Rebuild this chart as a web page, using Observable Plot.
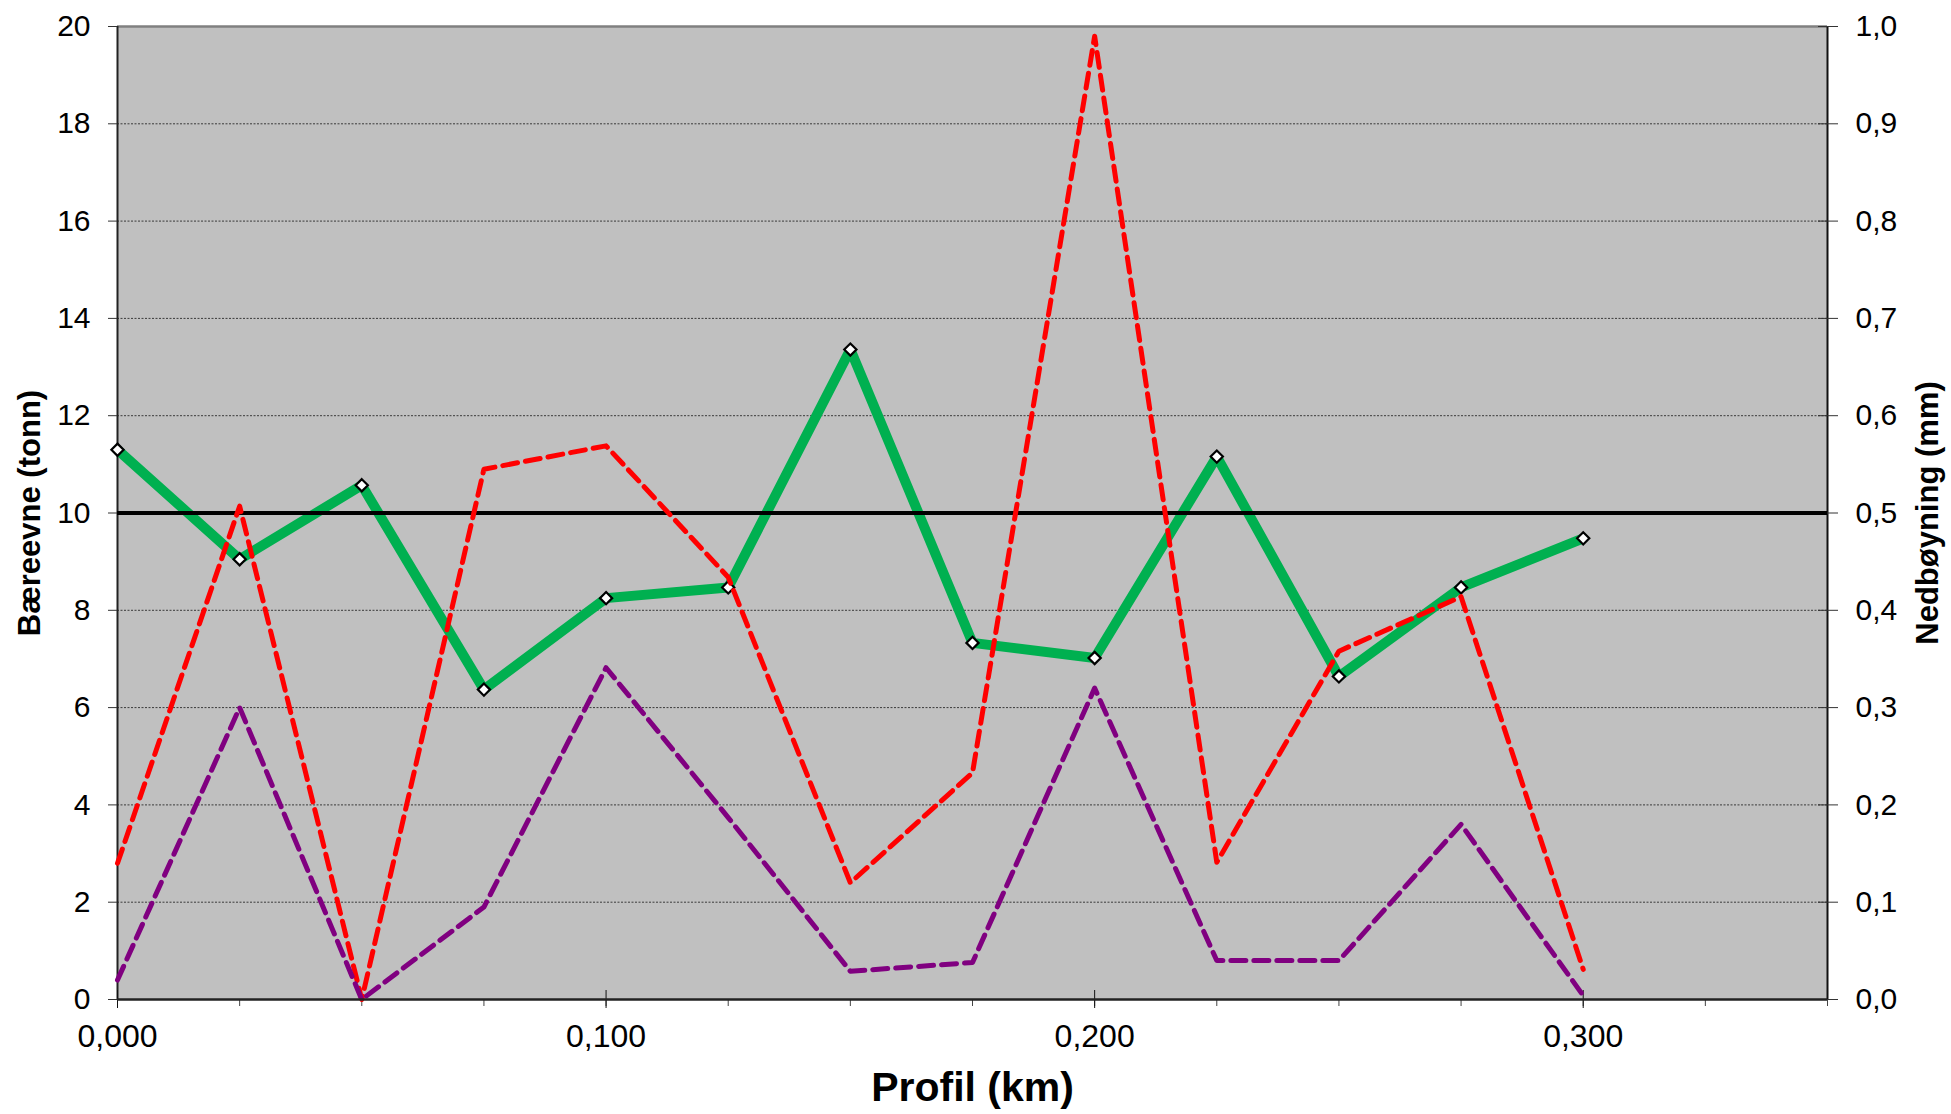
<!DOCTYPE html>
<html>
<head>
<meta charset="utf-8">
<script src="https://cdn.jsdelivr.net/npm/d3@7"></script>
<script src="https://cdn.jsdelivr.net/npm/@observablehq/plot@0.6"></script>
<style>
  html, body { margin: 0; padding: 0; background: #fff; }
  #chart { width: 1951px; height: 1114px; }
  svg { display: block; }
</style>
</head>
<body>
<div id="chart"></div>
<script>
// ---- data ----
const profil = [0.000, 0.025, 0.050, 0.075, 0.100, 0.125, 0.150, 0.175, 0.200, 0.225, 0.250, 0.275, 0.300];
const baereevne = [11.30, 9.05, 10.57, 6.37, 8.25, 8.47, 13.36, 7.33, 7.02, 11.16, 6.64, 8.47, 9.48]; // tonn (left axis)
const nedboyningA = [0.140, 0.507, 0.000, 0.545, 0.569, 0.434, 0.120, 0.233, 0.990, 0.141, 0.358, 0.414, 0.031]; // mm (right axis), red
const nedboyningB = [0.020, 0.300, 0.000, 0.095, 0.341, 0.187, 0.029, 0.038, 0.320, 0.040, 0.040, 0.180, 0.004]; // mm (right axis), purple
const grenseverdi = [10]; // tonn reference line
const xMajorTicks = [0, 0.1, 0.2, 0.3];
const xMinorTicks = [0, 0.025, 0.05, 0.075, 0.1, 0.125, 0.15, 0.175, 0.2, 0.225, 0.25, 0.275, 0.3, 0.325, 0.35];
const yLeftTicks = [0, 2, 4, 6, 8, 10, 12, 14, 16, 18, 20];
const yGridTicks = [2, 4, 6, 8, 10, 12, 14, 16, 18];
const xLabel = "Profil (km)";
const yLeftLabel = "Bæreevne (tonn)";
const yRightLabel = "Nedbøyning (mm)";

// right axis maps 0..1.0 mm onto 0..20 tonn
const ratio = 20 / 1.0;

const green = profil.map((x, i) => ({x, v: baereevne[i]}));
const red = profil.map((x, i) => ({x, v: nedboyningA[i]}));
const purple = profil.map((x, i) => ({x, v: nedboyningB[i]}));

const comma = (s) => s.replace(".", ",");

const chart = Plot.plot({
  width: 1951,
  height: 1114,
  marginTop: 26,
  marginRight: 124,
  marginBottom: 115,
  marginLeft: 117,
  style: {fontFamily: "'Liberation Sans', Arial, sans-serif", background: "#fff", color: "#000"},
  x: {domain: [0, 0.35]},
  y: {domain: [0, 20]},
  marks: [
    Plot.frame({fill: "#C0C0C0", stroke: "none"}),
    Plot.gridY(yGridTicks, {stroke: "#3a3a3a", strokeOpacity: 1, strokeWidth: 1, strokeDasharray: "2,1.5"}),
    // borders
    Plot.ruleY([20], {stroke: "#808080", strokeWidth: 2.5}),
    Plot.ruleX([0], {stroke: "#222", strokeWidth: 2}),
    Plot.ruleX([0.35], {stroke: "#111", strokeWidth: 2}),
    // x axis ticks
    Plot.axisX({ticks: xMinorTicks, tickSize: 7, text: null, label: null, stroke: "#444"}),
    Plot.axisX({ticks: xMajorTicks, tickSize: 18, dy: -9, text: null, label: null, stroke: "#111"}),
    Plot.axisX({ticks: xMajorTicks, tickSize: 0, tickPadding: 25, fontSize: 32, label: null,
      tickFormat: d => comma(d.toFixed(3))}),
    // left y axis
    Plot.axisY({ticks: yLeftTicks, tickSize: 9, tickPadding: 18, fontSize: 30, label: null, stroke: "#333",
      tickFormat: d => String(d)}),
    // right y axis (mm)
    Plot.axisY({anchor: "right", ticks: yLeftTicks, tickSize: 20, dx: -10, text: null, label: null, stroke: "#333"}),
    Plot.axisY({anchor: "right", ticks: yLeftTicks, tickSize: 0, tickPadding: 28, fontSize: 30, label: null,
      tickFormat: d => comma((d / ratio).toFixed(1))}),
    // data
    Plot.line(green, {x: "x", y: "v", stroke: "#00B050", strokeWidth: 10, strokeLinejoin: "miter"}),
    Plot.dot(green, {x: "x", y: "v", symbol: "diamond2", r: 5.5, fill: "#fff", stroke: "#000", strokeWidth: 2.2}),
    Plot.ruleY(grenseverdi, {stroke: "#000", strokeWidth: 4}),
    Plot.line(red, {x: "x", y: d => d.v * ratio, stroke: "#FF0000", strokeWidth: 5, strokeDasharray: "15,8", strokeLinejoin: "round"}),
    Plot.line(purple, {x: "x", y: d => d.v * ratio, stroke: "#800080", strokeWidth: 5, strokeDasharray: "15,8", strokeLinejoin: "round"}),
    Plot.ruleY([0], {stroke: "#222", strokeWidth: 2.5}),
    // axis titles
    Plot.text([xLabel], {frameAnchor: "bottom", textAnchor: "middle", dy: 101, fontSize: 41, fontWeight: "bold", fill: "#000"}),
    Plot.text([yLeftLabel], {frameAnchor: "left", textAnchor: "middle", rotate: -90, dx: -87, fontSize: 31, fontWeight: "bold", fill: "#000"}),
    Plot.text([yRightLabel], {frameAnchor: "right", textAnchor: "middle", rotate: -90, dx: 101, fontSize: 31, fontWeight: "bold", fill: "#000"})
  ]
});
document.getElementById("chart").appendChild(chart);
</script>
</body>
</html>
